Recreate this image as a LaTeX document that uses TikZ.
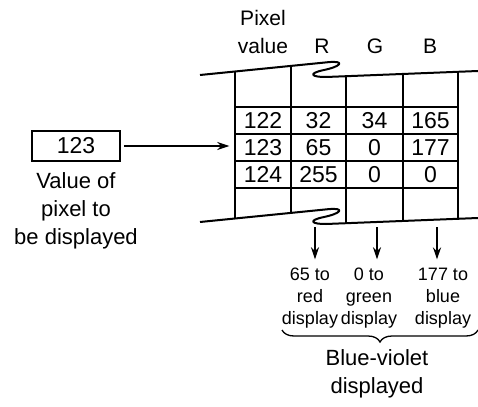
\documentclass[tikz,border=0pt]{standalone}
\usepackage{fontspec}
\setmainfont{Liberation Sans}
\usepackage{tikz}
\usetikzlibrary{arrows.meta,positioning,decorations.pathreplacing}

\begin{document}
\begin{tikzpicture}[
    x = 1pt, y = -1pt, % one unit per pixel, y runs down
    > = {Stealth[length=12pt,width=8pt]}, % arrow head style
    grid/.style = {line width = 2pt, line join = round},
    cell/.style = {minimum width = 55pt, minimum height = 27pt, inner sep = 0pt,
        font = \fontsize{23}{23}\selectfont},
    head/.style = {font = \fontsize{21}{28}\selectfont, align = center},
    note/.style = {font = \fontsize{18}{22}\selectfont, align = center},
    caption/.style = {font = \fontsize{22}{28}\selectfont, align = center}
]
\useasboundingbox (0,0) rectangle (478,406);

% column heads
\node[head] (pixhead) at (263,32) {Pixel\\value};
\node[head] (rhead) at (322,46) {R};
\node[head] (ghead) at (375,46) {G};
\node[head] (bhead) at (430,46) {B};

% broken-off top and bottom of the table
\draw[grid] (200,75) -- (328,62.2) .. controls (346,60.5) and (341,66.5) .. (324,70)
    .. controls (307,73.5) and (312,77.2) .. (326,77) -- (478,71);
\draw[grid] (200,222) -- (328,209.2) .. controls (346,207.5) and (341,213.5) .. (324,217)
    .. controls (307,220.5) and (312,224.2) .. (326,224) -- (478,218);

% columns
\draw[grid] (235,71.5) -- (235,218.5);
\draw[grid] (291,65.9) -- (291,212.9);
\draw[grid] (346,76.2) -- (346,223.2);
\draw[grid] (403,74) -- (403,221);
\draw[grid] (458,71.8) -- (458,218.8);

% rows
\draw[grid] (235,107) -- (458,107);
\draw[grid] (235,134) -- (458,134);
\draw[grid] (235,161) -- (458,161);
\draw[grid] (235,188) -- (458,188);

% table entries
\node[cell] (pv1) at (263,120.5) {122};
\node[cell] (r1) at (318.5,120.5) {32};
\node[cell] (g1) at (374.5,120.5) {34};
\node[cell] (b1) at (430.5,120.5) {165};
\node[cell] (pv2) at (263,147.5) {123};
\node[cell] (r2) at (318.5,147.5) {65};
\node[cell] (g2) at (374.5,147.5) {0};
\node[cell] (b2) at (430.5,147.5) {177};
\node[cell] (pv3) at (263,174.5) {124};
\node[cell] (r3) at (318.5,174.5) {255};
\node[cell] (g3) at (374.5,174.5) {0};
\node[cell] (b3) at (430.5,174.5) {0};

% pixel to be displayed
\node[draw, line width = 1.8pt, minimum width = 88pt, minimum height = 30pt,
    font = \fontsize{23}{23}\selectfont] (sel) at (76,146) {123};
\node[caption, below = 7pt of sel] (selnote) {Value of\\pixel to\\be displayed};
\draw[->, grid, shorten < = 3pt, shorten > = 6pt] (sel.east) -- (sel.east -| pv2.west);

% outputs
\node[note] (redout) at (310,298) {65 to\\red\\display};
\node[note] (greenout) at (369,298) {0 to\\green\\display};
\node[note] (blueout) at (443,298) {177 to\\blue\\display};
\coordinate (rdown) at (315,227);
\coordinate (gdown) at (377,227);
\coordinate (bdown) at (437,227);
\draw[->, grid, shorten > = 5pt] (rdown) -- (rdown |- redout.north);
\draw[->, grid, shorten > = 5pt] (gdown) -- (gdown |- greenout.north);
\draw[->, grid, shorten > = 5pt] (bdown) -- (bdown |- blueout.north);

% result
\coordinate (braceleft) at (282,330);
\coordinate (braceright) at (478,330);
\draw[decorate, decoration = {brace, mirror, amplitude = 12pt}, line width = 1.3pt]
    (braceleft) -- (braceright);
\node[caption] (result) at (377,374) {Blue-violet\\displayed};

\end{tikzpicture}
\end{document}
